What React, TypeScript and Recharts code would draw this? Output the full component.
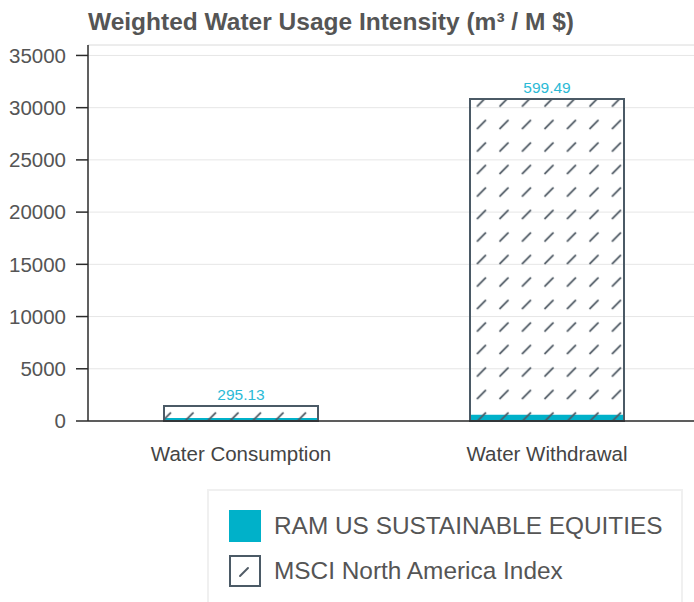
import { BarChart, Bar, XAxis, YAxis, CartesianGrid, ReferenceLine, LabelList } from 'recharts'

const categories = ['Water Consumption', 'Water Withdrawal']
const ramValues = [295.13, 599.49]
const msciValues = [1440, 30830]
const yTicks = [0, 5000, 10000, 15000, 20000, 25000, 30000, 35000]

const C = {
  teal: '#00b1c9',
  tealText: '#2bbad6',
  slate: '#4b5a66',
  hatch: '#505b65',
  grid: '#e6e6e6',
  axis: '#2b2b2b',
  text: '#555',
} as const

const FONT = '"Liberation Sans", Arial, sans-serif'

const data = categories.map((name, i) => ({
  name,
  ram: ramValues[i],
  msci: msciValues[i],
}))

export default function App() {
  return (
    <div style={{ position: 'absolute', left: 0, top: 0, width: 694, height: 602, background: '#fff', fontFamily: FONT, overflow: 'hidden' }}>
      {/* Title */}
      <div style={{ position: 'absolute', left: 88, top: 8, fontSize: 24.5, fontWeight: 'bold', color: C.text, whiteSpace: 'nowrap' }}>
        Weighted Water Usage Intensity (m³ / M $)
      </div>

      <div style={{ position: 'absolute', left: 0, top: 0 }}>
        <BarChart
          width={694}
          height={470}
          data={data}
          margin={{ top: 45, right: -6, left: 0, bottom: 0 }}
          barSize={154}
          barGap={-154}
        >
          <defs>
            <pattern id="hatch" patternUnits="userSpaceOnUse" width="22.5" height="22.5">
              <line x1="5" y1="16" x2="13" y2="8" stroke={C.hatch} strokeWidth="1.9" strokeLinecap="round" />
            </pattern>
          </defs>
          <CartesianGrid stroke={C.grid} vertical={false} />
          <ReferenceLine y={36000} stroke={C.grid} />
          <XAxis
            dataKey="name"
            height={49}
            tickLine={false}
            tickSize={0}
            tickMargin={25}
            axisLine={{ stroke: C.axis, strokeWidth: 1.5 }}
            tick={{ fontSize: 20.5, fill: '#444', fontFamily: FONT }}
          />
          <YAxis
            width={88}
            domain={[0, 36000]}
            ticks={yTicks}
            tickSize={12}
            tickMargin={10}
            tickLine={{ stroke: C.axis, strokeWidth: 1.5 }}
            axisLine={{ stroke: C.axis, strokeWidth: 1.5 }}
            tick={{ fontSize: 20.5, fill: C.text, fontFamily: FONT }}
          />
          <Bar dataKey="ram" fill={C.teal} isAnimationActive={false} />
          <Bar dataKey="msci" fill="url(#hatch)" stroke={C.slate} strokeWidth={2} isAnimationActive={false}>
            <LabelList
              dataKey="ram"
              position="top"
              offset={6}
              fill={C.tealText}
              fontSize={15.5}
              fontFamily={FONT}
              formatter={(v: unknown) => (typeof v === 'number' ? v.toFixed(2) : String(v))}
            />
          </Bar>
        </BarChart>
      </div>

      {/* Legend */}
      <div style={{ position: 'absolute', left: 207, top: 489, width: 476, height: 130, border: '2px solid #f0f0f0', boxSizing: 'border-box' }}>
        <div style={{ position: 'absolute', left: 20, top: 19, display: 'flex', alignItems: 'center' }}>
          <div style={{ width: 32, height: 32, background: C.teal }} />
          <span style={{ marginLeft: 13, fontSize: 24.4, color: C.text }}>RAM US SUSTAINABLE EQUITIES</span>
        </div>
        <div style={{ position: 'absolute', left: 20, top: 64, display: 'flex', alignItems: 'center' }}>
          <svg width="32" height="32" aria-hidden>
            <rect x="1" y="1" width="30" height="30" fill="#fff" stroke={C.slate} strokeWidth="2" />
            <line x1="11" y1="21" x2="19" y2="13" stroke={C.hatch} strokeWidth="1.9" strokeLinecap="round" />
          </svg>
          <span style={{ marginLeft: 13, fontSize: 24.4, color: C.text }}>MSCI North America Index</span>
        </div>
      </div>
    </div>
  )
}
